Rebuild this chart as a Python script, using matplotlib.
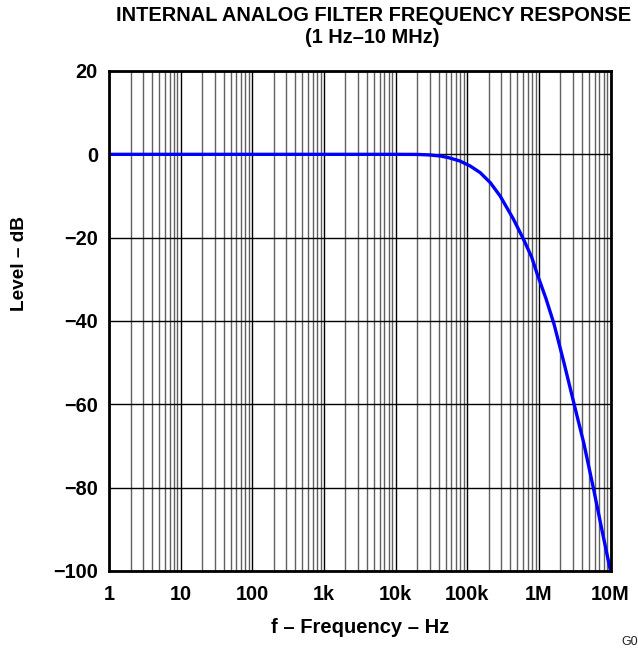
import matplotlib
matplotlib.use("Agg")
import matplotlib.pyplot as plt
import numpy as np
from matplotlib.ticker import LogLocator, FixedLocator, NullFormatter

plt.rcParams['font.family'] = ['Liberation Sans', 'DejaVu Sans']

# Data
freq_hz = [1, 10, 100, 1e3, 1e4, 2e4, 3e4, 4.2e4, 5.5e4, 7.9e4, 1.1e5, 1.52e5,
           2.1e5, 2.88e5, 4.4e5, 6.07e5, 7.95e5, 9.42e5, 1.25e6, 1.62e6, 2.24e6,
           3.09e6, 4.25e6, 5.85e6, 7.6e6, 1e7]
level_db = [0, 0, 0, 0, 0, -0.02, -0.15, -0.4, -0.8, -1.6, -2.8, -4.4,
            -6.8, -10, -15.5, -20.3, -24.7, -28.6, -34.5, -40.6, -50.0,
            -59.8, -69.4, -80.6, -90.2, -100]

x_ticks = [1, 10, 100, 1e3, 1e4, 1e5, 1e6, 1e7]
x_tick_labels = ['1', '10', '100', '1k', '10k', '100k', '1M', '10M']
y_ticks = [-100, -80, -60, -40, -20, 0, 20]
y_tick_labels = ['\u2212100', '\u221280', '\u221260', '\u221240', '\u221220', '0', '20']

W, H = 638, 654
fig = plt.figure(figsize=(W / 100, H / 100), dpi=100)
L, R, T, B = 109, 610.5, 71, 571
ax = fig.add_axes([L / W, 1 - B / H, (R - L) / W, (B - T) / H])

ax.plot(freq_hz, level_db, color='#0000ff', lw=2.4, solid_capstyle='butt',
        solid_joinstyle='round', zorder=5)

ax.set_xscale('log')
ax.set_xlim(1, 1e7)
ax.set_ylim(-100, 20)

ax.xaxis.set_major_locator(FixedLocator(x_ticks))
ax.set_xticklabels(x_tick_labels)
ax.xaxis.set_minor_locator(LogLocator(base=10, subs=np.arange(2, 10), numticks=100))
ax.xaxis.set_minor_formatter(NullFormatter())
ax.set_yticks(y_ticks)
ax.set_yticklabels(y_tick_labels)

ax.grid(True, which='major', axis='both', color='black', lw=1.0)
ax.grid(True, which='minor', axis='x', color='#606060', lw=1.0)
ax.tick_params(which='both', length=0, labelsize=14.3)
ax.tick_params(axis='x', pad=10)
ax.tick_params(axis='y', pad=8)
for lab in ax.get_xticklabels() + ax.get_yticklabels():
    lab.set_fontweight('bold')
for s in ax.spines.values():
    s.set_linewidth(2.0)
    s.set_color('black')
    s.set_zorder(6)

fig.text(360 / W, 1 - 633 / H, 'f \u2013 Frequency \u2013 Hz', ha='center', va='baseline',
         fontsize=14.5, fontweight='bold')
fig.text(19.5 / W, 1 - 263 / H, 'Level \u2013 dB', ha='center', va='center',
         rotation=90, fontsize=13.7, fontweight='bold')

fig.text(374 / W, 1 - 21.3 / H, 'INTERNAL ANALOG FILTER FREQUENCY RESPONSE',
         ha='center', va='baseline', fontsize=14.4, fontweight='bold')
fig.text(372 / W, 1 - 43 / H, '(1 Hz\u201310 MHz)',
         ha='center', va='baseline', fontsize=14.4, fontweight='bold')
fig.text(621 / W, 1 - 642 / H, 'G0', ha='left', va='center', fontsize=9, color='#222222')

fig.savefig('out.png', dpi=100)
